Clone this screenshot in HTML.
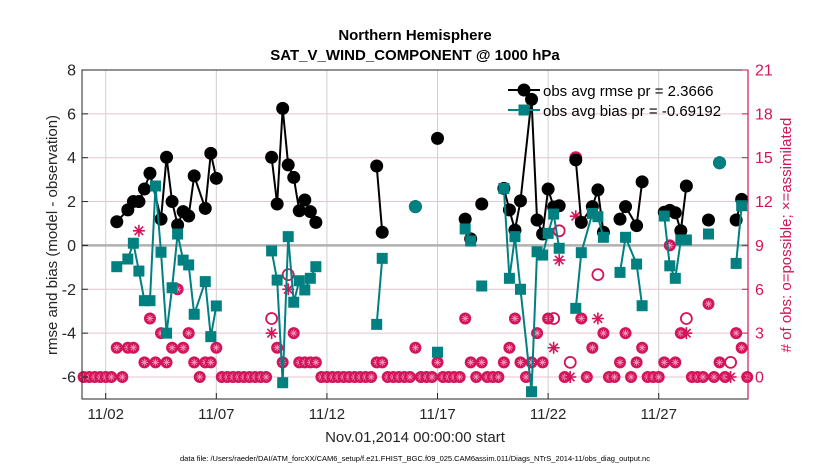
<!DOCTYPE html>
<html><head><meta charset="utf-8">
<style>
html,body{margin:0;padding:0;background:#fff;}
svg{display:block;font-family:"Liberation Sans",sans-serif;}
</style></head>
<body>
<svg id="chart" width="830" height="470" viewBox="0 0 830 470" xmlns="http://www.w3.org/2000/svg">
<rect x="0" y="0" width="830" height="470" fill="#fff"/>
<text x="415" y="40" text-anchor="middle" font-size="15" font-weight="bold">Northern Hemisphere</text>
<text x="415" y="60" text-anchor="middle" font-size="15" font-weight="bold">SAT_V_WIND_COMPONENT @ 1000 hPa</text>
<rect x="82" y="70" width="666" height="329" fill="#fff"/>
<g id="grid"></g>
<g id="marks"></g>
<rect x="82" y="70" width="666" height="329" fill="none" stroke="#262626" stroke-width="1"/>
<g id="axes"></g>
<text transform="translate(57,235) rotate(-90)" text-anchor="middle" font-size="15" fill="#262626">rmse and bias (model - observation)</text>
<text transform="translate(791,235) rotate(-90)" text-anchor="middle" font-size="15" fill="#d4145a"># of obs: o=possible; ×=assimilated</text>
<text x="415" y="442" text-anchor="middle" font-size="15" fill="#262626">Nov.01,2014 00:00:00 start</text>
<text x="415" y="461" text-anchor="middle" font-size="7.5" fill="#000">data file: /Users/raeder/DAI/ATM_forcXX/CAM6_setup/f.e21.FHIST_BGC.f09_025.CAM6assim.011/Diags_NTrS_2014-11/obs_diag_output.nc</text>
<g id="legend">
  <line x1="508" y1="90" x2="540" y2="90" stroke="#000" stroke-width="2"/>
  <circle cx="524" cy="90" r="6.5" fill="#000"/>
  <text x="543" y="96" font-size="15">obs avg rmse pr = 2.3666</text>
  <line x1="508" y1="110" x2="540" y2="110" stroke="#008080" stroke-width="2"/>
  <rect x="518.5" y="104.5" width="11" height="11" fill="#008080"/>
  <text x="543" y="116" font-size="15">obs avg bias pr = -0.69192</text>
</g>
</svg>
<script>
var rmseSlots=[6,8,9,10,11,12,14,15,16,17,18,19,20,22,23,24,34,35,36,37,38,39,40,41,42,53,54,60,64,69,70,72,76,77,78,79,81,82,83,84,85,86,89,90,92,93,94,97,98,100,101,105,106,107,108,109,113,115,118,119];
var rmseVals=[1.08,1.62,2.0,2.0,2.57,3.29,1.2,4.02,2.0,0.93,1.54,1.34,3.17,1.69,4.2,3.06,4.02,1.89,6.25,3.67,3.1,1.58,2.07,1.54,1.05,3.62,0.6,1.77,4.88,1.2,0.3,1.89,2.6,1.62,0.7,2.03,6.66,1.16,0.52,2.57,1.75,1.81,3.9,1.05,1.77,2.53,0.6,1.2,1.77,0.9,2.9,1.51,1.6,1.49,0.67,2.71,1.16,3.77,1.16,2.1];
var biasSlots=[6,8,9,10,11,12,13,14,15,16,17,18,19,20,22,23,24,34,35,36,37,38,39,40,41,42,53,54,60,64,69,70,72,76,77,78,79,81,82,83,84,85,86,89,90,92,93,94,97,98,100,101,105,106,107,108,109,113,115,118,119];
var biasVals=[-0.97,-0.62,0.1,-1.17,-2.52,-2.52,2.71,-0.31,-4.0,-1.93,0.52,-0.67,-0.89,-3.14,-1.65,-4.16,-2.76,-0.25,-1.58,-6.26,0.4,-2.59,-1.61,-2.03,-1.5,-0.97,-3.6,-0.59,1.77,-4.87,0.75,0.2,-1.85,2.6,-1.5,0.4,-2.0,-6.67,-0.29,-0.44,0.55,1.43,-0.13,-2.87,-0.33,1.46,1.31,0.37,-1.23,0.37,-0.85,-2.75,1.34,-0.93,-1.5,0.25,0.25,0.52,3.77,-0.82,1.81];
var biasCircleSlots=[60,115];
var segmentStartSlots=[72,115];
var possibleCounts=[0,0,0,0,0,0,2,0,2,2,12,1,4,1,3,1,2,6,2,3,1,0,1,1,2,0,0,0,0,0,0,0,0,0,4,2,1,7,3,1,1,1,1,0,0,0,0,0,0,0,0,0,0,1,1,0,0,0,0,0,2,0,0,0,1,0,0,0,0,4,1,0,1,0,0,0,1,2,4,1,0,1,3,1,4,4,10,0,1,15,4,0,2,7,3,0,0,1,3,0,1,2,0,0,0,1,9,1,3,4,0,0,0,5,0,1,0,1,3,2,0];
var assimCounts=[0,0,0,0,0,0,2,0,2,2,10,1,4,1,3,1,2,6,2,3,1,0,1,1,2,0,0,0,0,0,0,0,0,0,3,2,1,6,3,1,1,1,1,0,0,0,0,0,0,0,0,0,0,1,1,0,0,0,0,0,2,0,0,0,1,0,0,0,0,4,1,0,1,0,0,0,1,2,4,1,0,1,3,1,4,2,8,0,0,11,4,0,2,4,3,0,0,1,3,0,1,2,0,0,0,1,9,1,3,3,0,0,0,5,0,1,0,0,3,2,0];
var leftTicks=[8,6,4,2,0,-2,-4,-6];
var rightTicks=[21,18,15,12,9,6,3,0];
var dayTickDays=[2,7,12,17,22,27];
var dayTickLabels=["11/02","11/07","11/12","11/17","11/22","11/27"];

var NS="http://www.w3.org/2000/svg";
var PINK="#d4145a", TEAL="#008080";
function xS(slot){return 83.6+slot*5.53;}
function yL(v){return 377-(v+6)*21.93;}
function yR(c){return 377-c*14.62;}
function mk(tag,attrs,parent){var e=document.createElementNS(NS,tag);for(var k in attrs)e.setAttribute(k,attrs[k]);parent.appendChild(e);return e;}
var grid=document.getElementById('grid'), marks=document.getElementById('marks'), axes=document.getElementById('axes');

leftTicks.forEach(function(v){
  if(v===0||v===8)return;
  var g=mk('line',{x1:82,x2:748,y1:yL(v),y2:yL(v),stroke:"#e8c3d2","stroke-width":1},grid);
  
  
});
dayTickDays.forEach(function(d){
  var x=xS((d-1)*4);
  var g=mk('line',{x1:x,x2:x,y1:70,y2:399,stroke:"#d0d0d0","stroke-width":1},grid);
  
  
});
var zl=mk('line',{x1:82,x2:748,y1:yL(0),y2:yL(0),stroke:"#b0b0b0","stroke-width":2.5},grid);



function star(cx,cy,r,col,w,parent){
  for(var a=0;a<4;a++){
    var ang=a*Math.PI/4;
    var l=mk('line',{x1:cx-r*Math.cos(ang),y1:cy-r*Math.sin(ang),x2:cx+r*Math.cos(ang),y2:cy+r*Math.sin(ang),stroke:col,"stroke-width":w},parent);
    
    
  }
}
possibleCounts.forEach(function(p,i){
  var a=assimCounts[i], x=xS(i);
  if(p===a){
    var c=mk('circle',{cx:x,cy:yR(p),r:6,fill:PINK},marks);
    
    
    star(x,yR(p),3.5,"#f3a0c0",0.8,marks);
  } else {
    var c2=mk('circle',{cx:x,cy:yR(p),r:5.5,fill:"none",stroke:PINK,"stroke-width":1.8},marks);
    
    
    star(x,yR(a),6,PINK,1.6,marks);
  }
});

function series(slots,vals,col,kind){
  for(var k=0;k<slots.length-1;k++){
    if(slots[k+1]-slots[k]<=2 && segmentStartSlots.indexOf(slots[k+1])<0){
      var l=mk('line',{x1:xS(slots[k]),y1:yL(vals[k]),x2:xS(slots[k+1]),y2:yL(vals[k+1]),stroke:col,"stroke-width":2},marks);
      
      
    }
  }
  slots.forEach(function(s,k){
    var m;
    if(kind==='rmse'||biasCircleSlots.indexOf(s)>=0){
      m=mk('circle',{cx:xS(s),cy:yL(vals[k]),r:6.5,fill:col},marks);
    } else {
      m=mk('rect',{x:xS(s)-5.5,y:yL(vals[k])-5.5,width:11,height:11,fill:col},marks);
    }
    
    
  });
}
series(rmseSlots,rmseVals,"#000",'rmse');
series(biasSlots,biasVals,TEAL,'bias');

leftTicks.forEach(function(v){
  var y=yL(v);
  var t=mk('line',{x1:82,x2:88,y1:y,y2:y,stroke:"#262626"},axes);
  
  
  var tx=mk('text',{x:76,y:y+5.5,"text-anchor":"end","font-size":16,fill:"#262626"},axes);
  tx.textContent=v;
  
  
});
var ra=mk('line',{x1:748,x2:748,y1:70,y2:399,stroke:PINK,"stroke-width":1.2},axes);


rightTicks.forEach(function(c){
  var y=yR(c);
  var t=mk('line',{x1:742,x2:748,y1:y,y2:y,stroke:PINK},axes);
  
  
  var tx=mk('text',{x:755,y:y+5.5,"text-anchor":"start","font-size":16,fill:PINK},axes);
  tx.textContent=c;
  
  
});
dayTickDays.forEach(function(d,k){
  var x=xS((d-1)*4);
  var t=mk('line',{x1:x,x2:x,y1:393,y2:399,stroke:"#262626"},axes);
  
  
  var tx=mk('text',{x:x,y:419,"text-anchor":"middle","font-size":15,fill:"#262626"},axes);
  tx.textContent=dayTickLabels[k];
  
  
});
</script>
</body></html>
